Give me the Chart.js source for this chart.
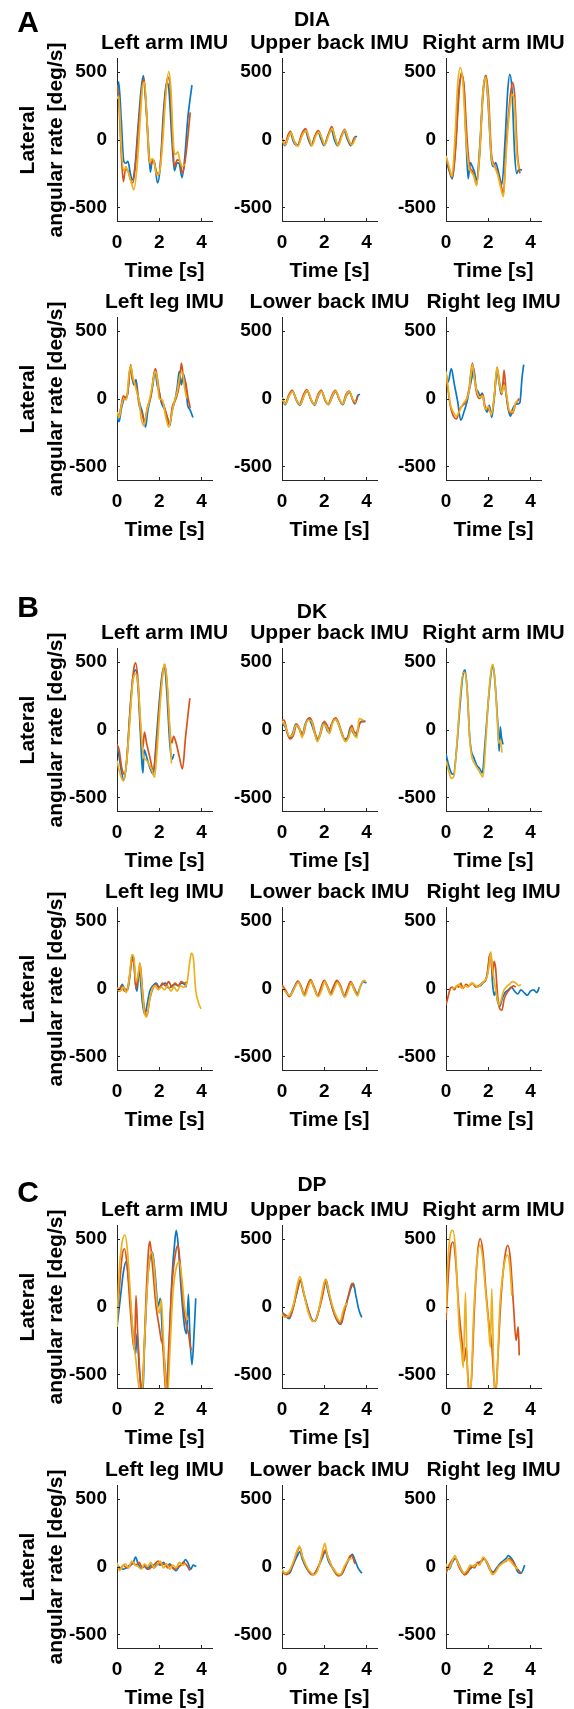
<!DOCTYPE html>
<html>
<head>
<meta charset="utf-8">
<script src="https://cdn.jsdelivr.net/npm/chart.js@4.4.1/dist/chart.umd.min.js"></script>
<style>
  body { margin: 0; background: #fff; }
  #fig { position: relative; width: 574px; height: 1709px; overflow: hidden;
         font-family: "Liberation Sans", Arial, sans-serif; font-weight: bold; color: #000; }
  .t { position: absolute; white-space: nowrap; text-align: center; }
  canvas { position: absolute; }
</style>
</head>
<body>
<div id="fig"></div>
<script>
// ---- data: [time s, lateral angular rate deg/s] ----
const xTicks = [0, 2, 4]
const yTicks = [-500, 0, 500]
const letters = ['A', 'B', 'C']
const groups = ['DIA', 'DK', 'DP']
const topTitles = ['Left arm IMU', 'Upper back IMU', 'Right arm IMU']
const bottomTitles = ['Left leg IMU', 'Lower back IMU', 'Right leg IMU']

// DIA
const diaLArmBlue = [[0,300],[0.08,425],[0.2,150],[0.32,-160],[0.42,-175],[0.52,-160],[0.62,-240],[0.72,-300],[0.85,-200],[1.0,100],[1.15,380],[1.25,470],[1.35,300],[1.5,-60],[1.58,-240],[1.68,-150],[1.78,-170],[1.92,-320],[2.05,-200],[2.2,200],[2.35,420],[2.45,380],[2.6,0],[2.72,-230],[2.85,-170],[2.95,-180],[3.08,-280],[3.2,-150],[3.35,150],[3.55,400]]
const diaLArmRed = [[0,400],[0.08,300],[0.2,-100],[0.3,-310],[0.4,-220],[0.52,-230],[0.65,-300],[0.75,-320],[0.9,-150],[1.05,150],[1.2,400],[1.28,445],[1.4,200],[1.52,-150],[1.62,-180],[1.72,-150],[1.85,-230],[1.98,-260],[2.1,-100],[2.25,250],[2.4,460],[2.5,420],[2.62,50],[2.72,-200],[2.85,-150],[2.98,-160],[3.1,-250],[3.25,-130],[3.47,200]]
const diaLArmYellow = [[0,300],[0.08,320],[0.2,-50],[0.32,-230],[0.42,-200],[0.55,-250],[0.7,-330],[0.8,-370],[0.95,-200],[1.1,150],[1.22,400],[1.3,420],[1.42,150],[1.55,-170],[1.65,-140],[1.75,-160],[1.88,-260],[2.0,-250],[2.15,-50],[2.3,300],[2.45,500],[2.55,380],[2.68,-50],[2.78,-110],[2.88,-90],[3.0,-170],[3.1,-200],[3.2,-180]]
const diaUBackBlue = [[0,0],[0.14,-45],[0.3,20],[0.38,55],[0.55,-20],[0.73,-45],[0.95,30],[1.1,70],[1.25,0],[1.39,-45],[1.55,20],[1.7,60],[1.85,0],[1.99,-45],[2.18,30],[2.34,70],[2.48,0],[2.63,-45],[2.8,20],[2.95,60],[3.1,0],[3.26,-45],[3.42,10],[3.55,25]]
const diaUBackRed = [[0,10],[0.14,-35],[0.28,30],[0.4,60],[0.57,-10],[0.75,-40],[0.93,40],[1.12,80],[1.27,10],[1.4,-40],[1.57,30],[1.72,65],[1.88,10],[2.0,-40],[2.2,40],[2.36,95],[2.5,20],[2.65,-40],[2.82,30],[2.97,75],[3.12,10],[3.28,-40],[3.45,20]]
const diaUBackYellow = [[0,-5],[0.15,-40],[0.32,25],[0.42,50],[0.58,-15],[0.75,-50],[0.97,35],[1.14,65],[1.3,5],[1.42,-45],[1.6,25],[1.74,55],[1.9,5],[2.02,-40],[2.22,35],[2.38,80],[2.52,10],[2.66,-45],[2.84,25],[2.98,70],[3.14,5],[3.3,-40],[3.5,15]]
const diaRArmBlue = [[0,-150],[0.15,-230],[0.3,-290],[0.45,-50],[0.6,350],[0.75,470],[0.85,380],[0.95,0],[1.05,-290],[1.15,-170],[1.25,-200],[1.35,-240],[1.45,-300],[1.6,-50],[1.75,350],[1.88,470],[2.0,250],[2.15,-150],[2.25,-200],[2.35,-170],[2.5,-250],[2.65,-330],[2.8,0],[2.92,350],[3.02,480],[3.12,380],[3.25,-100],[3.35,-250],[3.45,-220],[3.6,-225]]
const diaRArmRed = [[0,-130],[0.15,-220],[0.3,-280],[0.45,-80],[0.6,300],[0.72,490],[0.85,400],[1.0,0],[1.12,-200],[1.25,-230],[1.35,-280],[1.45,-330],[1.6,-100],[1.75,320],[1.9,470],[2.02,300],[2.15,-100],[2.3,-190],[2.45,-250],[2.6,-330],[2.72,-400],[2.85,-50],[3.0,250],[3.15,420],[3.25,330],[3.38,-100],[3.5,-250]]
const diaRArmYellow = [[0,-120],[0.15,-200],[0.28,-270],[0.42,0],[0.55,400],[0.68,530],[0.8,420],[0.95,0],[1.08,-200],[1.2,-240],[1.32,-270],[1.45,-340],[1.6,-80],[1.75,350],[1.88,460],[2.0,280],[2.15,-130],[2.3,-200],[2.45,-260],[2.6,-360],[2.72,-420],[2.85,-100],[3.0,200],[3.12,330],[3.22,300],[3.35,-100],[3.45,-220]]
const diaLLegBlue = [[0,-130],[0.1,-170],[0.2,-80],[0.35,0],[0.5,30],[0.62,230],[0.72,150],[0.8,100],[0.9,140],[1.0,20],[1.1,-50],[1.2,-100],[1.35,-210],[1.45,-100],[1.55,-20],[1.7,100],[1.8,210],[1.9,100],[2.0,50],[2.1,-30],[2.25,-80],[2.4,-150],[2.5,-200],[2.6,-100],[2.75,-10],[2.85,80],[2.95,200],[3.05,100],[3.15,180],[3.25,100],[3.35,-50],[3.45,-80],[3.6,-140]]
const diaLLegRed = [[0,-110],[0.1,-120],[0.2,-50],[0.3,20],[0.45,0],[0.55,100],[0.65,250],[0.75,130],[0.85,120],[0.95,60],[1.05,-50],[1.2,-120],[1.3,-170],[1.45,-60],[1.6,10],[1.72,150],[1.82,220],[1.92,140],[2.05,0],[2.2,-40],[2.35,-120],[2.5,-190],[2.62,-60],[2.8,0],[2.95,100],[3.05,260],[3.15,150],[3.25,120],[3.35,20],[3.47,-70]]
const diaLLegYellow = [[0,-100],[0.1,-140],[0.2,-60],[0.32,0],[0.45,-10],[0.55,150],[0.65,240],[0.75,160],[0.85,100],[0.95,40],[1.05,-20],[1.15,-150],[1.28,-200],[1.4,-100],[1.55,0],[1.7,120],[1.8,200],[1.9,150],[2.0,0],[2.15,-10],[2.3,-130],[2.45,-210],[2.55,-150],[2.7,-30],[2.85,50],[3.0,180],[3.1,190],[3.2,80],[3.3,0]]
const diaLBackBlue = [[0,10],[0.15,-45],[0.35,25],[0.5,55],[0.7,-20],[0.85,-50],[1.05,25],[1.2,55],[1.4,-20],[1.55,-50],[1.72,20],[1.88,55],[2.05,-15],[2.2,-45],[2.4,20],[2.55,50],[2.72,-10],[2.88,-45],[3.05,20],[3.2,45],[3.35,-10],[3.45,-40],[3.6,25],[3.7,30]]
const diaLBackRed = [[0,0],[0.15,-35],[0.33,30],[0.48,60],[0.68,-10],[0.83,-40],[1.02,30],[1.18,65],[1.38,-10],[1.53,-40],[1.7,30],[1.86,60],[2.03,-10],[2.18,-40],[2.38,30],[2.53,60],[2.7,0],[2.86,-40],[3.03,30],[3.18,55],[3.33,0],[3.45,-35],[3.6,20]]
const diaLBackYellow = [[0,5],[0.16,-40],[0.34,20],[0.5,50],[0.7,-15],[0.86,-45],[1.04,20],[1.2,60],[1.4,-15],[1.55,-45],[1.72,25],[1.88,50],[2.05,-10],[2.2,-45],[2.4,25],[2.55,55],[2.72,-5],[2.88,-40],[3.05,25],[3.2,50],[3.35,-5],[3.5,-30]]
const diaRLegBlue = [[0,180],[0.1,120],[0.25,220],[0.4,100],[0.55,-20],[0.7,-160],[0.85,-100],[1.0,-20],[1.1,60],[1.22,150],[1.32,220],[1.42,80],[1.52,50],[1.62,20],[1.72,40],[1.82,-50],[1.95,-100],[2.05,-50],[2.17,-140],[2.3,30],[2.42,200],[2.5,130],[2.62,30],[2.72,120],[2.82,60],[2.95,-80],[3.05,-130],[3.15,-80],[3.25,-50],[3.4,-40],[3.5,-30],[3.6,150],[3.68,250]]
const diaRLegRed = [[0,150],[0.1,60],[0.2,-50],[0.35,-130],[0.5,-150],[0.65,-80],[0.8,-50],[0.95,-20],[1.1,80],[1.25,260],[1.35,150],[1.45,40],[1.6,0],[1.75,30],[1.85,-60],[2.0,-80],[2.15,-100],[2.28,0],[2.42,230],[2.55,100],[2.65,30],[2.75,210],[2.85,40],[3.0,-100],[3.15,-110],[3.3,-40],[3.47,0]]
const diaRLegYellow = [[0,200],[0.1,80],[0.2,-40],[0.35,-100],[0.5,-130],[0.65,-90],[0.8,-40],[0.95,-10],[1.1,60],[1.25,250],[1.35,140],[1.45,60],[1.6,10],[1.75,20],[1.85,-80],[2.0,-60],[2.15,-120],[2.28,10],[2.42,230],[2.52,120],[2.65,40],[2.75,100],[2.88,20],[3.0,-90],[3.15,-100],[3.3,-30],[3.42,-20]]

// DK
const dkLArmBlue = [[0,-130],[0.1,-200],[0.2,-300],[0.32,-370],[0.45,-250],[0.6,100],[0.75,380],[0.9,440],[1.0,300],[1.1,0],[1.18,-250],[1.23,-320],[1.28,-150],[1.4,-200],[1.55,-280],[1.72,-330],[1.85,-100],[2.0,200],[2.15,420],[2.25,460],[2.35,300],[2.5,-100],[2.6,-220],[2.7,-180]]
const dkLArmRed = [[0,-110],[0.1,-150],[0.22,-280],[0.35,-330],[0.5,-150],[0.65,200],[0.8,450],[0.88,490],[1.0,350],[1.12,0],[1.22,-140],[1.3,-20],[1.4,-100],[1.55,-200],[1.72,-300],[1.85,-150],[2.0,150],[2.15,400],[2.25,480],[2.35,380],[2.5,0],[2.6,-100],[2.68,-50],[2.8,-100],[2.95,-200],[3.1,-290],[3.25,-50],[3.45,230]]
const dkLArmYellow = [[0,-230],[0.1,-300],[0.22,-360],[0.3,-380],[0.45,-250],[0.6,50],[0.75,350],[0.9,410],[1.0,330],[1.12,50],[1.25,-200],[1.35,-220],[1.5,-250],[1.65,-300],[1.78,-350],[1.9,-150],[2.05,200],[2.2,450],[2.27,480],[2.38,330],[2.5,0],[2.58,-250]]
const dkUBackBlue = [[0,50],[0.15,20],[0.35,-60],[0.5,-30],[0.65,40],[0.8,10],[0.95,-40],[1.1,40],[1.25,80],[1.4,40],[1.55,-30],[1.68,-80],[1.8,-30],[1.95,50],[2.05,30],[2.2,-20],[2.35,40],[2.5,80],[2.65,50],[2.8,-20],[2.95,-70],[3.1,-60],[3.25,20],[3.35,-20],[3.5,-50],[3.6,10],[3.75,60],[3.95,60]]
const dkUBackRed = [[0,70],[0.1,70],[0.25,-20],[0.38,-70],[0.55,-40],[0.7,40],[0.85,0],[1.0,-40],[1.15,50],[1.3,85],[1.45,50],[1.6,-40],[1.72,-70],[1.85,-20],[2.0,60],[2.1,40],[2.25,0],[2.4,60],[2.55,85],[2.7,40],[2.85,-30],[3.0,-80],[3.15,-50],[3.3,30],[3.4,-10],[3.55,-30],[3.7,50],[3.95,60]]
const dkUBackYellow = [[0,60],[0.15,30],[0.35,-50],[0.5,-40],[0.65,30],[0.8,20],[0.95,-60],[1.1,30],[1.25,70],[1.4,60],[1.55,-30],[1.68,-90],[1.8,-40],[1.95,40],[2.1,20],[2.25,-30],[2.4,50],[2.55,75],[2.7,30],[2.85,-40],[3.0,-90],[3.15,-60],[3.3,10],[3.42,-40],[3.55,-60],[3.65,80],[3.85,70]]
const dkRArmBlue = [[0,-180],[0.12,-260],[0.25,-320],[0.35,-330],[0.5,-150],[0.65,150],[0.8,400],[0.9,440],[1.0,300],[1.12,-50],[1.2,-160],[1.3,-200],[1.45,-260],[1.6,-290],[1.72,-320],[1.85,-100],[2.0,200],[2.15,430],[2.23,470],[2.32,350],[2.45,50],[2.52,-160],[2.57,20],[2.62,-50],[2.7,-110]]
const dkRArmRed = []
const dkRArmYellow = [[0,-230],[0.12,-300],[0.25,-360],[0.38,-340],[0.52,-100],[0.68,250],[0.82,420],[0.92,410],[1.02,250],[1.12,-60],[1.22,-200],[1.35,-250],[1.5,-290],[1.62,-320],[1.75,-350],[1.88,-100],[2.02,250],[2.15,450],[2.22,480],[2.32,360],[2.42,100],[2.5,-100],[2.58,-80],[2.65,-170]]
const dkLLegBlue = [[0,0],[0.1,-20],[0.25,30],[0.35,0],[0.5,-10],[0.6,80],[0.72,240],[0.8,200],[0.88,30],[0.95,-20],[1.05,150],[1.12,50],[1.2,-100],[1.32,-190],[1.45,-100],[1.55,-20],[1.7,20],[1.85,40],[2.0,10],[2.15,30],[2.3,40],[2.45,0],[2.6,20],[2.75,30],[2.9,20],[3.05,40],[3.2,30],[3.3,10]]
const dkLLegRed = [[0,10],[0.1,-10],[0.2,20],[0.35,-20],[0.5,0],[0.62,120],[0.72,220],[0.82,150],[0.9,0],[1.0,80],[1.1,180],[1.2,0],[1.3,-150],[1.42,-200],[1.55,-80],[1.7,0],[1.85,30],[2.0,0],[2.15,40],[2.3,20],[2.45,50],[2.6,10],[2.75,40],[2.9,20],[3.05,50],[3.2,40],[3.35,50]]
const dkLLegYellow = [[0,0],[0.15,-20],[0.3,10],[0.45,-30],[0.6,100],[0.7,250],[0.8,230],[0.9,50],[1.0,100],[1.08,190],[1.18,20],[1.3,-180],[1.4,-210],[1.52,-100],[1.65,-10],[1.8,20],[1.95,-10],[2.1,10],[2.25,-10],[2.4,20],[2.55,-20],[2.7,10],[2.85,-20],[3.0,20],[3.15,10],[3.3,30],[3.45,200],[3.52,260],[3.62,220],[3.72,0],[3.85,-100],[3.98,-150]]
const dkLBackBlue = [[0,20],[0.2,-30],[0.35,-55],[0.55,0],[0.75,50],[0.9,10],[1.05,-50],[1.2,10],[1.35,60],[1.5,10],[1.7,-55],[1.85,0],[2.0,55],[2.15,10],[2.3,-40],[2.45,10],[2.6,55],[2.8,0],[2.95,-60],[3.1,-10],[3.25,45],[3.4,0],[3.55,-45],[3.7,10],[3.85,50],[4.0,40]]
const dkLBackRed = [[0,25],[0.2,-20],[0.35,-60],[0.55,-10],[0.75,55],[0.9,20],[1.05,-40],[1.2,20],[1.35,65],[1.5,20],[1.7,-50],[1.85,10],[2.0,60],[2.15,20],[2.3,-30],[2.45,20],[2.6,60],[2.8,10],[2.95,-50],[3.1,0],[3.25,50],[3.4,10],[3.55,-40]]
const dkLBackYellow = [[0,10],[0.2,-30],[0.38,-50],[0.58,0],[0.78,45],[0.92,0],[1.08,-55],[1.22,0],[1.38,55],[1.52,0],[1.72,-60],[1.88,-10],[2.02,50],[2.18,0],[2.32,-50],[2.48,0],[2.62,45],[2.82,-10],[2.98,-65],[3.12,-20],[3.28,40],[3.42,-10],[3.58,-55],[3.72,20],[3.88,60],[3.98,50]]
const dkRLegBlue = [[1.5,20],[1.6,20],[1.75,40],[1.9,70],[2.0,150],[2.08,250],[2.15,200],[2.2,50],[2.28,-50],[2.35,-20],[2.45,-100],[2.55,-130],[2.65,-80],[2.8,-30],[2.95,-10],[3.1,10],[3.25,-20],[3.4,-40],[3.55,-10],[3.7,-30],[3.85,-50],[4.0,-20],[4.15,-10],[4.3,-30],[4.42,10]]
const dkRLegRed = [[0,-120],[0.1,-60],[0.2,0],[0.3,10],[0.4,-10],[0.5,20],[0.6,10],[0.7,40],[0.8,0],[0.95,30],[1.1,20],[1.25,40],[1.4,10],[1.55,20],[1.7,40],[1.85,60],[1.95,100],[2.05,230],[2.12,260],[2.2,100],[2.28,200],[2.35,150],[2.45,-60],[2.55,-150],[2.65,-160],[2.75,-80],[2.9,-30],[3.05,0],[3.2,20],[3.3,10]]
const dkRLegYellow = [[0.3,0],[0.45,10],[0.6,30],[0.75,0],[0.9,20],[1.05,10],[1.2,40],[1.35,30],[1.5,10],[1.65,30],[1.8,50],[1.95,90],[2.05,180],[2.12,270],[2.2,150],[2.3,40],[2.4,-50],[2.5,-120],[2.6,-90],[2.72,-20],[2.85,10],[3.0,30],[3.15,50],[3.3,40],[3.45,20],[3.55,30]]

// DP
const dpLArmBlue = [[0,-150],[0.15,50],[0.3,250],[0.43,330],[0.55,200],[0.7,-100],[0.82,-300],[0.88,-350],[0.95,-200],[1.05,-450],[1.15,-600],[1.22,-650],[1.3,-300],[1.45,200],[1.6,380],[1.68,400],[1.8,250],[1.95,0],[2.05,60],[2.15,-200],[2.3,-500],[2.38,-650],[2.45,-400],[2.6,200],[2.75,500],[2.81,560],[2.9,450],[3.05,100],[3.2,-150],[3.3,-200],[3.38,90],[3.45,-200],[3.55,-430],[3.65,-200],[3.73,60]]
const dpLArmRed = [[0,-100],[0.12,150],[0.25,380],[0.35,425],[0.48,300],[0.62,0],[0.75,-250],[0.83,-320],[0.9,80],[0.98,-200],[1.08,-500],[1.15,-650],[1.25,-450],[1.4,150],[1.5,430],[1.56,480],[1.68,300],[1.85,0],[2.0,-150],[2.1,-250],[2.17,-290],[2.25,-500],[2.33,-650],[2.45,-300],[2.6,150],[2.78,400],[2.89,450],[3.0,300],[3.15,0],[3.3,-150],[3.38,-190],[3.48,-300],[3.52,-320]]
const dpLArmYellow = [[0,-150],[0.1,250],[0.25,480],[0.38,525],[0.5,400],[0.65,50],[0.78,-250],[0.9,-400],[1.0,-550],[1.1,-650],[1.2,-620],[1.32,-200],[1.48,250],[1.62,400],[1.72,350],[1.88,50],[2.0,-50],[2.1,50],[2.2,-250],[2.3,-550],[2.4,-650],[2.5,-350],[2.65,100],[2.8,280],[2.95,330],[3.08,200],[3.2,0],[3.35,-100]]
const dpUBackBlue = [[0,-40],[0.15,-70],[0.35,-90],[0.5,-20],[0.7,100],[0.88,190],[1.0,120],[1.2,0],[1.4,-90],[1.55,-110],[1.7,-50],[1.9,80],[2.05,180],[2.2,100],[2.4,-20],[2.6,-100],[2.75,-130],[2.9,-60],[3.1,50],[3.3,150],[3.38,170],[3.5,80],[3.65,-30],[3.78,-80]]
const dpUBackRed = [[0,-50],[0.15,-60],[0.35,-80],[0.55,0],[0.72,120],[0.88,200],[1.02,100],[1.25,-30],[1.45,-110],[1.6,-100],[1.8,0],[1.95,100],[2.08,200],[2.25,80],[2.45,-40],[2.65,-110],[2.8,-130],[2.95,-40],[3.15,80],[3.32,170],[3.42,140]]
const dpUBackYellow = [[0,-60],[0.15,-80],[0.35,-60],[0.55,20],[0.7,140],[0.85,220],[1.0,130],[1.2,-20],[1.4,-100],[1.55,-110],[1.75,-20],[1.92,120],[2.05,200],[2.2,120],[2.4,0],[2.6,-80],[2.75,-110],[2.9,-30],[3.05,20],[3.1,10]]
const dpRArmBlue = []
const dpRArmRed = [[0,-100],[0.1,200],[0.22,430],[0.33,475],[0.45,350],[0.6,0],[0.75,-250],[0.87,-400],[0.95,-300],[1.05,-550],[1.12,-650],[1.22,-500],[1.35,0],[1.5,400],[1.62,500],[1.75,400],[1.9,100],[2.05,-150],[2.15,-250],[2.28,-550],[2.35,-650],[2.45,-400],[2.6,50],[2.8,380],[2.93,450],[3.05,350],[3.2,0],[3.32,-250],[3.42,-150],[3.47,-360]]
const dpRArmYellow = [[0,-50],[0.08,300],[0.22,540],[0.32,560],[0.45,420],[0.55,100],[0.62,-150],[0.72,-300],[0.82,-450],[0.92,100],[0.98,-300],[1.08,-650],[1.18,-600],[1.3,-100],[1.45,300],[1.6,450],[1.72,380],[1.88,100],[2.0,-100],[2.1,-300],[2.17,130],[2.25,-400],[2.32,-650],[2.42,-500],[2.55,0],[2.75,300],[2.9,380],[3.02,300],[3.12,80]]
const dpLLegBlue = [[0,10],[0.15,-10],[0.3,-20],[0.45,-10],[0.6,10],[0.75,20],[0.88,70],[1.0,20],[1.15,-10],[1.3,0],[1.45,-20],[1.6,10],[1.75,-10],[1.9,20],[2.05,10],[2.2,30],[2.35,0],[2.5,20],[2.65,-10],[2.8,-30],[2.95,0],[3.1,20],[3.25,50],[3.35,30],[3.5,-20],[3.6,10],[3.76,0]]
const dpLLegRed = [[0,0],[0.15,-20],[0.3,10],[0.45,-10],[0.6,0],[0.75,30],[0.9,10],[1.05,30],[1.2,-10],[1.35,10],[1.5,-20],[1.65,0],[1.8,20],[1.95,40],[2.1,10],[2.25,20],[2.4,-10],[2.55,10],[2.7,-20],[2.85,-10],[3.0,10],[3.15,30],[3.3,10],[3.45,-30]]
const dpLLegYellow = [[0,30],[0.12,-30],[0.25,0],[0.4,20],[0.55,-10],[0.7,40],[0.85,10],[1.0,0],[1.15,-20],[1.3,20],[1.45,0],[1.6,30],[1.75,-10],[1.9,10],[2.05,40],[2.2,-10],[2.35,20],[2.5,-20],[2.65,10],[2.8,-10],[2.95,30],[3.1,10],[3.25,20]]
const dpLBackBlue = [[0,-40],[0.2,-50],[0.35,-50],[0.5,0],[0.7,70],[0.85,110],[0.95,60],[1.15,-10],[1.35,-50],[1.5,-60],[1.7,-10],[1.9,60],[2.05,110],[2.2,40],[2.45,-20],[2.65,-60],[2.8,-60],[3.0,0],[3.2,60],[3.33,90],[3.45,50],[3.6,-10],[3.78,-50]]
const dpLBackRed = [[0,-40],[0.2,-60],[0.35,-40],[0.55,30],[0.72,110],[0.85,140],[0.97,70],[1.2,-20],[1.4,-60],[1.55,-50],[1.75,10],[1.92,80],[2.05,120],[2.2,60],[2.45,-30],[2.7,-70],[2.85,-50],[3.05,20],[3.25,80],[3.35,70],[3.45,20]]
const dpLBackYellow = [[0,-20],[0.15,-50],[0.35,-30],[0.55,40],[0.72,120],[0.83,150],[0.95,80],[1.2,-10],[1.4,-50],[1.55,-60],[1.75,0],[1.9,100],[2.03,170],[2.15,80],[2.4,-10],[2.6,-50],[2.75,-60],[2.95,0],[3.15,50],[3.3,60]]
const dpRLegBlue = [[0,-10],[0.15,-20],[0.3,30],[0.45,60],[0.6,20],[0.75,-30],[0.88,-60],[1.05,-30],[1.2,-10],[1.35,10],[1.5,20],[1.65,40],[1.8,60],[1.95,20],[2.1,-30],[2.25,-40],[2.4,-10],[2.55,20],[2.7,40],[2.85,60],[2.95,80],[3.1,60],[3.25,20],[3.4,-40],[3.55,-50],[3.73,10]]
const dpRLegRed = [[0,-50],[0.12,0],[0.3,50],[0.45,60],[0.6,0],[0.75,-40],[0.9,-60],[1.05,-40],[1.2,0],[1.35,-10],[1.5,30],[1.65,30],[1.8,60],[1.95,30],[2.1,-20],[2.25,-50],[2.4,-20],[2.55,10],[2.7,30],[2.85,40],[3.0,60],[3.15,40],[3.3,0],[3.45,-30],[3.55,-50]]
const dpRLegYellow = [[0,20],[0.12,-20],[0.3,40],[0.42,80],[0.55,30],[0.72,-20],[0.85,-50],[1.0,-30],[1.15,10],[1.3,0],[1.45,20],[1.6,10],[1.75,70],[1.9,40],[2.05,-10],[2.2,-60],[2.35,-40],[2.5,0],[2.65,20],[2.8,40],[2.95,50],[3.1,30],[3.25,0],[3.4,-20]]

// ---- layout ----
const colX = [117, 282, 446]          // left edge of each axes box
const rowTop = [58, 317, 648, 907, 1225, 1485]
const axW = 95, axH = 163
const padL = 60, padT = 25, padR = 25, padB = 65
const blue = '#0a78c2', red = '#D95319', yellow = '#EDB120', axisColor = '#262626'

const plots = [
  [diaLArmBlue, diaLArmRed, diaLArmYellow], [diaUBackBlue, diaUBackRed, diaUBackYellow], [diaRArmBlue, diaRArmRed, diaRArmYellow],
  [diaLLegBlue, diaLLegRed, diaLLegYellow], [diaLBackBlue, diaLBackRed, diaLBackYellow], [diaRLegBlue, diaRLegRed, diaRLegYellow],
  [dkLArmBlue, dkLArmRed, dkLArmYellow], [dkUBackBlue, dkUBackRed, dkUBackYellow], [dkRArmBlue, dkRArmRed, dkRArmYellow],
  [dkLLegBlue, dkLLegRed, dkLLegYellow], [dkLBackBlue, dkLBackRed, dkLBackYellow], [dkRLegBlue, dkRLegRed, dkRLegYellow],
  [dpLArmBlue, dpLArmRed, dpLArmYellow], [dpUBackBlue, dpUBackRed, dpUBackYellow], [dpRArmBlue, dpRArmRed, dpRArmYellow],
  [dpLLegBlue, dpLLegRed, dpLLegYellow], [dpLBackBlue, dpLBackRed, dpLBackYellow], [dpRLegBlue, dpRLegRed, dpRLegYellow]
]

const fig = document.getElementById('fig')
Chart.defaults.font.family = '"Liberation Sans", Arial, sans-serif'

function addText(txt, cx, cy, size) {
  const d = document.createElement('div')
  d.className = 't'
  d.textContent = txt
  d.style.fontSize = size + 'px'
  d.style.lineHeight = (size + 4) + 'px'
  d.style.width = '300px'
  d.style.left = (cx - 150) + 'px'
  d.style.top = (cy - (size + 4) / 2) + 'px'
  fig.appendChild(d)
}

function addYLabel(cy) {
  const d = document.createElement('div')
  d.className = 't'
  d.innerHTML = 'Lateral<br>angular rate [deg/s]'
  d.style.fontSize = '21px'
  d.style.lineHeight = '28px'
  d.style.width = '300px'
  d.style.height = '56px'
  d.style.left = (41 - 150) + 'px'
  d.style.top = (cy - 28) + 'px'
  d.style.transform = 'rotate(-90deg)'
  fig.appendChild(d)
}

// small inward tick marks, like the original axes
const inTicks = {
  id: 'inTicks',
  afterDraw(chart) {
    const {ctx, chartArea: a, scales: {x, y}} = chart
    ctx.save()
    ctx.strokeStyle = axisColor
    ctx.lineWidth = 1
    ctx.beginPath()
    xTicks.forEach(v => {
      const p = Math.round(x.getPixelForValue(v)) + 0.5
      ctx.moveTo(p, a.bottom); ctx.lineTo(p, a.bottom - 3)
    })
    yTicks.forEach(v => {
      const p = Math.round(y.getPixelForValue(v)) + 0.5
      ctx.moveTo(a.left, p); ctx.lineTo(a.left + 3, p)
    })
    ctx.stroke()
    ctx.restore()
  }
}

function toXY(arr) {
  return arr.map(([t, v]) => ({x: t, y: v}))
}

function makePlot(series, left, top) {
  const c = document.createElement('canvas')
  c.width = padL + axW + padR
  c.height = padT + axH + padB
  c.style.left = (left - padL) + 'px'
  c.style.top = (top - padT) + 'px'
  fig.appendChild(c)
  const [b, r, y] = series
  new Chart(c, {
    type: 'line',
    data: {
      datasets: [
        {data: toXY(b), borderColor: blue, order: 3},
        {data: toXY(r), borderColor: red, order: 2},
        {data: toXY(y), borderColor: yellow, order: 1}
      ]
    },
    options: {
      responsive: false,
      animation: false,
      devicePixelRatio: 1,
      layout: {padding: {left: 0, top: padT, right: padR, bottom: 0}},
      elements: {
        point: {radius: 0},
        line: {borderWidth: 1.7, cubicInterpolationMode: 'monotone'}
      },
      plugins: {legend: {display: false}, tooltip: {enabled: false}},
      scales: {
        x: {
          type: 'linear', min: 0, max: 4.5,
          afterBuildTicks: s => { s.ticks = xTicks.map(v => ({value: v})) },
          afterFit: s => { s.height = padB },
          grid: {display: false, drawTicks: false},
          border: {display: true, color: axisColor, width: 1},
          ticks: {padding: 10, color: '#000', maxRotation: 0, autoSkip: false,
                  font: {size: 19, weight: 'bold'}},
          title: {display: true, text: 'Time [s]', color: '#000',
                  font: {size: 21, weight: 'bold'}, padding: {top: 0, bottom: 2}}
        },
        y: {
          type: 'linear', min: -600, max: 600,
          afterBuildTicks: s => { s.ticks = yTicks.map(v => ({value: v})) },
          afterFit: s => { s.width = padL },
          grid: {display: false, drawTicks: false},
          border: {display: true, color: axisColor, width: 1},
          ticks: {padding: 10, color: '#000', font: {size: 19, weight: 'bold'}}
        }
      }
    },
    plugins: [inTicks]
  })
}

plots.forEach((series, i) => {
  const row = Math.floor(i / 3), col = i % 3
  makePlot(series, colX[col], rowTop[row])
})

// titles and labels
rowTop.forEach((top, row) => {
  const names = row % 2 === 0 ? topTitles : bottomTitles
  colX.forEach((x, col) => addText(names[col], x + axW / 2, top - 17, 21))
  addYLabel(top + axH / 2)
})
const groupY = [18, 610, 1183]
const letterY = [22, 607, 1192]
groups.forEach((g, k) => {
  addText(g, 312, groupY[k], 21)
  addText(letters[k], 28, letterY[k], 30)
})
</script>
</body>
</html>
